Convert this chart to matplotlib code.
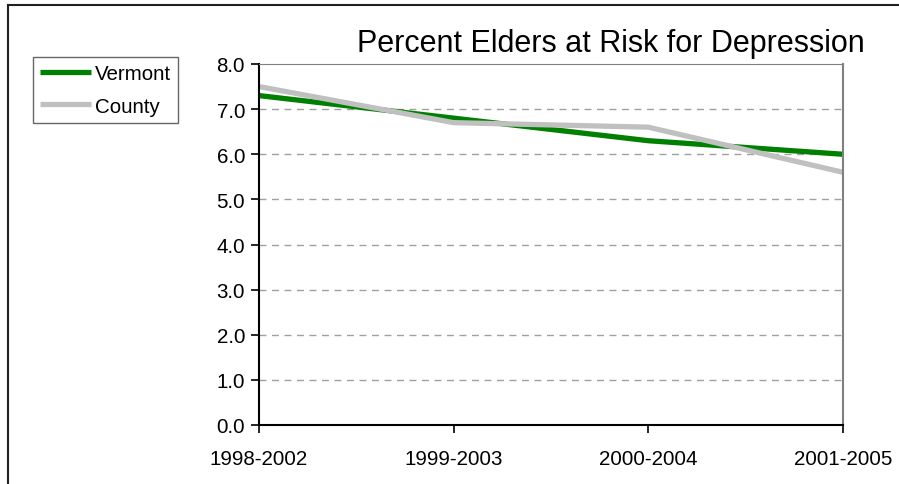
import matplotlib
matplotlib.use("Agg")
import matplotlib.pyplot as plt
from matplotlib.lines import Line2D

# data
periods = ['1998-2002', '1999-2003', '2000-2004', '2001-2005']
vermont = [7.3, 6.8, 6.3, 6.0]
county = [7.5, 6.7, 6.6, 5.6]
y_ticks = [0, 1, 2, 3, 4, 5, 6, 7, 8]

plt.rcParams['font.family'] = ['Liberation Sans', 'DejaVu Sans']

W, H = 899, 485
fig = plt.figure(figsize=(W / 100, H / 100), dpi=100)
ax = fig.add_axes([259 / W, 1 - 426 / H, (843 - 259) / W, (426 - 65) / H])

x = list(range(len(periods)))
ax.plot(x, vermont, color='#008000', lw=3.8, label='Vermont', solid_capstyle='butt')
ax.plot(x, county, color='#c0c0c0', lw=3.8, label='County', solid_capstyle='butt')

ax.set_xlim(0, 3)
ax.set_ylim(0, 8)
ax.set_xticks(x)
ax.set_xticklabels(periods)
ax.set_yticks(y_ticks)
ax.set_yticklabels([f'{v:.1f}' for v in y_ticks])
ax.tick_params(axis='both', labelsize=14.8, direction='out', length=6, width=1.2, color='black')
ax.tick_params(axis='x', pad=11)
ax.tick_params(axis='y', pad=4)

# dashed gridlines
for v in y_ticks[1:-1]:
    ax.axhline(v, color='#a0a0a0', lw=1, ls=(0, (5, 4)), zorder=0)

ax.spines['left'].set_color('black')
ax.spines['left'].set_linewidth(1.5)
ax.spines['bottom'].set_color('black')
ax.spines['bottom'].set_linewidth(1.5)
ax.spines['top'].set_color('#808080')
ax.spines['right'].set_color('#808080')
ax.spines['right'].set_linewidth(1.5)

fig.text(611 / W, 1 - 52 / H, 'Percent Elders at Risk for Depression',
         ha='center', va='baseline', fontsize=22)

leg = ax.legend(loc='upper left', bbox_to_anchor=(33 / W, 1 - 58 / H),
                bbox_transform=fig.transFigure, borderaxespad=0,
                fancybox=False, fontsize=14.8, handlelength=2.45,
                handletextpad=0.2, labelspacing=0.65, borderpad=0.35)
leg.get_frame().set_edgecolor('#404040')
leg.get_frame().set_linewidth(1)
for h in leg.get_lines():
    h.set_linewidth(3.8)

# outer chart border (left and top edges visible)
fig.add_artist(Line2D([8 / W, 8 / W], [0, 1 - 6 / H], color='#202020', lw=1.5,
                      transform=fig.transFigure))
fig.add_artist(Line2D([8 / W, 1], [1 - 6 / H, 1 - 6 / H], color='#202020', lw=1.5,
                      transform=fig.transFigure))

fig.savefig('out.png', dpi=100)
